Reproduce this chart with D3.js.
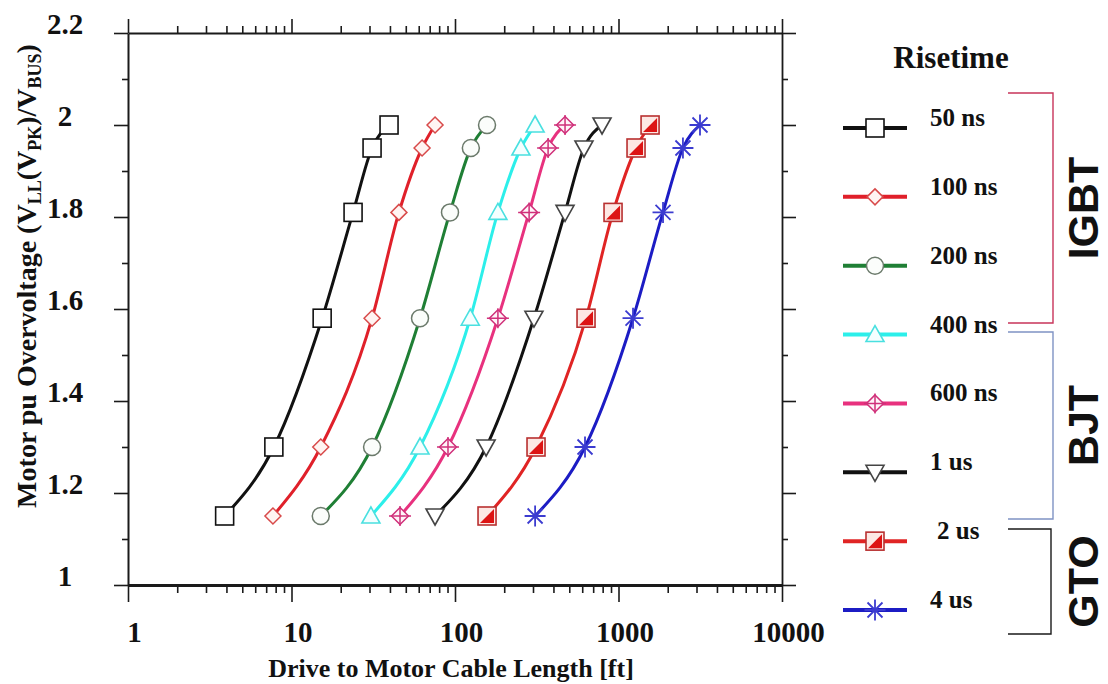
<!DOCTYPE html>
<html>
<head>
<meta charset="utf-8">
<script src="https://cdn.jsdelivr.net/npm/d3@7/dist/d3.min.js"></script>
<style>
  html, body { margin: 0; padding: 0; background: #fff; }
  svg { display: block; }
  .serif { font-family: "Liberation Serif", "Times New Roman", serif; font-weight: bold; fill: #111; }
  .sans { font-family: "Liberation Sans", Arial, sans-serif; font-weight: bold; fill: #111; }
</style>
</head>
<body>
<svg id="chart" width="1108" height="684"></svg>
<script>
// Rise-time series and their legend labels
const riseTimes = ["50 ns", "100 ns", "200 ns", "400 ns", "600 ns", "1 us", "2 us", "4 us"];
// Overvoltage levels (pu) at which each curve was evaluated
const overvoltage = [1.15, 1.3, 1.58, 1.81, 1.95, 2.0];
// Cable length [ft] reaching each overvoltage level, one array per rise time
const len50ns  = [3.9, 7.8, 15.4, 23.8, 31.1, 39.5];
const len100ns = [7.7, 15.1, 31.1, 45.4, 62.9, 75.5];
const len200ns = [15.1, 31.1, 61.1, 93.2, 125, 157];
const len400ns = [30.6, 61.1, 124, 183, 253, 309];
const len600ns = [46.1, 90.6, 183, 284, 371, 471];
const len1us   = [75.5, 155, 304, 471, 615, 793];
const len2us   = [157, 313, 633, 926, 1280, 1560];
const len4us   = [309, 624, 1227, 1872, 2478, 3151];
const cableLengths = [len50ns, len100ns, len200ns, len400ns, len600ns, len1us, len2us, len4us];

// Axis ticks
const xTicks = [1, 10, 100, 1000, 10000];
const xTickLabels = ["1", "10", "100", "1000", "10000"];
const yTicks = [1, 1.2, 1.4, 1.6, 1.8, 2, 2.2];
const yTickLabels = ["1", "1.2", "1.4", "1.6", "1.8", "2", "2.2"];
const yMinorTicks = [1.1, 1.3, 1.5, 1.7, 1.9, 2.1];

// Device families grouping the rise times
const deviceGroups = ["IGBT", "BJT", "GTO"];

// Styling per series
const lineColors   = ["#111111", "#e0202a", "#1f7f35", "#2cefea", "#e8317e", "#111111", "#e02424", "#1c1cc4"];
const markerStroke = ["#111111", "#d84a4a", "#6b7a6b", "#49e0e0", "#d0307a", "#444444", "#b83030", "#3c3cd0"];
const markerKinds  = ["square", "diamond", "circle", "triangleUp", "crossDiamond", "triangleDown", "halfSquare", "asterisk"];

const svg = d3.select("#chart");

const x = d3.scaleLog().domain([1, 10000]).range([128, 782]);
const y = d3.scaleLinear().domain([1, 2.2]).range([585, 33]);

const xMinor = [];
for (let dec = 1; dec < 10000; dec *= 10) for (let k = 2; k <= 9; k++) xMinor.push(dec * k);

// ---------- axes ----------
function styleAxis(g, width) {
  g.selectAll("path.domain").attr("stroke", "#1a1a1a").attr("stroke-width", width);
  g.selectAll(".tick line").attr("stroke", "#1a1a1a").attr("stroke-width", 1.6);
}

// bottom
const gb = svg.append("g").attr("transform", `translate(0,${y.range()[0]})`)
  .call(d3.axisBottom(x).tickValues(xTicks).tickSize(17).tickSizeOuter(0)
    .tickFormat((d, i) => xTickLabels[i]));
styleAxis(gb, 3);
gb.selectAll(".tick text").attr("class", "serif").attr("font-size", 29)
  .attr("y", 57).attr("dy", 0).attr("dx", 6).attr("fill", "#111");
svg.append("g").attr("transform", `translate(0,${y.range()[0]})`)
  .call(d3.axisBottom(x).tickValues(xMinor).tickSize(8).tickSizeOuter(0).tickFormat(""))
  .call(g => { g.select("path.domain").remove(); styleAxis(g, 1.6); });

// top
const gt = svg.append("g").attr("transform", `translate(0,${y.range()[1]})`)
  .call(d3.axisTop(x).tickValues(xTicks).tickSize(14).tickSizeOuter(0).tickFormat(""));
styleAxis(gt, 1.8);
svg.append("g").attr("transform", `translate(0,${y.range()[1]})`)
  .call(d3.axisTop(x).tickValues(xMinor).tickSize(7).tickSizeOuter(0).tickFormat(""))
  .call(g => { g.select("path.domain").remove(); styleAxis(g, 1.6); });

// left
const gl = svg.append("g").attr("transform", `translate(${x.range()[0]},0)`)
  .call(d3.axisLeft(y).tickValues(yTicks).tickSize(14).tickSizeOuter(0)
    .tickFormat((d, i) => yTickLabels[i]));
styleAxis(gl, 2);
gl.selectAll(".tick text").attr("class", "serif").attr("font-size", 29)
  .attr("x", -63).attr("dy", 0).attr("text-anchor", "middle").attr("fill", "#111");
svg.append("g").attr("transform", `translate(${x.range()[0]},0)`)
  .call(d3.axisLeft(y).tickValues(yMinorTicks).tickSize(6).tickSizeOuter(0).tickFormat(""))
  .call(g => { g.select("path.domain").remove(); styleAxis(g, 1.6); });

// right
const gr = svg.append("g").attr("transform", `translate(${x.range()[1]},0)`)
  .call(d3.axisRight(y).tickValues(yTicks).tickSize(14).tickSizeOuter(0).tickFormat(""));
styleAxis(gr, 1.8);
svg.append("g").attr("transform", `translate(${x.range()[1]},0)`)
  .call(d3.axisRight(y).tickValues(yMinorTicks).tickSize(6).tickSizeOuter(0).tickFormat(""))
  .call(g => { g.select("path.domain").remove(); styleAxis(g, 1.6); });

// axis titles
svg.append("text").attr("class", "serif").attr("font-size", 26)
  .attr("x", 451).attr("y", 677).attr("text-anchor", "middle")
  .text("Drive to Motor Cable Length [ft]");

const yTitle = svg.append("text").attr("class", "serif").attr("font-size", 28)
  .attr("text-anchor", "middle")
  .attr("transform", "translate(36,276) rotate(-90)");
yTitle.append("tspan").text("Motor pu Overvoltage (V");
yTitle.append("tspan").attr("font-size", 18).attr("dy", 5).text("LL");
yTitle.append("tspan").attr("dy", -5).text("(V");
yTitle.append("tspan").attr("font-size", 18).attr("dy", 5).text("PK");
yTitle.append("tspan").attr("dy", -5).text(")/V");
yTitle.append("tspan").attr("font-size", 18).attr("dy", 5).text("BUS");
yTitle.append("tspan").attr("dy", -5).text(")");

// ---------- markers ----------
function drawMarker(g, kind, stroke) {
  const s = 9;
  switch (kind) {
    case "square":
      g.append("rect").attr("x", -s).attr("y", -s).attr("width", 2 * s).attr("height", 2 * s)
        .attr("fill", "#fff").attr("stroke", stroke).attr("stroke-width", 1.6);
      break;
    case "diamond":
      g.append("path").attr("d", `M0,${-8}L8,0L0,8L${-8},0Z`)
        .attr("fill", "#fff4f2").attr("stroke", stroke).attr("stroke-width", 1.5);
      break;
    case "circle":
      g.append("circle").attr("r", 8.5)
        .attr("fill", "#fbfdfb").attr("stroke", stroke).attr("stroke-width", 1.5);
      break;
    case "triangleUp":
      g.append("path").attr("d", `M0,-9L9,7L-9,7Z`)
        .attr("fill", "#f4ffff").attr("stroke", stroke).attr("stroke-width", 1.6);
      break;
    case "triangleDown":
      g.append("path").attr("d", `M0,9L9,-7L-9,-7Z`)
        .attr("fill", "#fff").attr("stroke", stroke).attr("stroke-width", 1.6);
      break;
    case "crossDiamond":
      g.append("path").attr("d", `M0,-8.5L8.5,0L0,8.5L-8.5,0Z`)
        .attr("fill", "#fff4f8").attr("stroke", stroke).attr("stroke-width", 1.5);
      g.append("path").attr("d", "M0,-10V10M-11,0H11")
        .attr("stroke", stroke).attr("stroke-width", 1.5);
      break;
    case "halfSquare":
      g.append("rect").attr("x", -s).attr("y", -s).attr("width", 2 * s).attr("height", 2 * s)
        .attr("fill", "#fde8e4").attr("stroke", stroke).attr("stroke-width", 1.6);
      g.append("path").attr("d", `M${s - 2},${-s + 2}L${s - 2},${s - 2}L${-s + 2},${s - 2}Z`)
        .attr("fill", "#dd1414");
      break;
    case "asterisk": {
      const r = 10.5, d = 7.5;
      g.append("path").attr("d", `M${-r},0H${r}M0,${-r}V${r}M${-d},${-d}L${d},${d}M${-d},${d}L${d},${-d}`)
        .attr("stroke", stroke).attr("stroke-width", 1.8).attr("fill", "none");
      break;
    }
  }
}

// ---------- curves ----------
const line = d3.line()
  .x(d => x(d[0]))
  .y(d => y(d[1]))
  .curve(d3.curveMonotoneX);

const plot = svg.append("g");
cableLengths.forEach((lens, i) => {
  const pts = lens.map((v, j) => [v, overvoltage[j]]);
  plot.append("path").datum(pts).attr("d", line)
    .attr("fill", "none").attr("stroke", lineColors[i]).attr("stroke-width", 3)
    .attr("stroke-linejoin", "round").attr("stroke-linecap", "round");
});
cableLengths.forEach((lens, i) => {
  lens.forEach((v, j) => {
    const g = plot.append("g").attr("transform", `translate(${x(v)},${y(overvoltage[j])})`);
    drawMarker(g, markerKinds[i], markerStroke[i]);
  });
});

// ---------- legend ----------
svg.append("text").attr("class", "serif").attr("font-size", 31)
  .attr("x", 951).attr("y", 68).attr("text-anchor", "middle").text("Risetime");

const legendY = d3.scaleLinear().domain([0, riseTimes.length - 1]).range([128, 610]);
riseTimes.forEach((label, i) => {
  const ly = legendY(i);
  svg.append("line").attr("x1", 843).attr("x2", 907).attr("y1", ly).attr("y2", ly)
    .attr("stroke", lineColors[i]).attr("stroke-width", 4);
  const g = svg.append("g").attr("transform", `translate(875,${ly})`);
  drawMarker(g, markerKinds[i], markerStroke[i]);
  svg.append("text").attr("class", "serif").attr("font-size", 25)
    .attr("x", label === "2 us" ? 937 : 930).attr("y", ly - 2).text(label);
});

// ---------- device family brackets ----------
const bracketSpans = [[93, 323], [332, 519], [529, 634]];
const bracketColors = ["#c8345a", "#7f93c4", "#1a1a1a"];
deviceGroups.forEach((name, i) => {
  const [y0, y1] = bracketSpans[i];
  const bx = i === 2 ? 1051 : 1053;
  svg.append("path")
    .attr("d", `M1008,${y0}H${bx}V${y1}H1008`)
    .attr("fill", "none").attr("stroke", bracketColors[i]).attr("stroke-width", 1.4);
  svg.append("text").attr("class", "sans").attr("font-size", 43)
    .attr("text-anchor", "middle")
    .attr("transform", `translate(1098,${(y0 + y1) / 2}) rotate(-90)`)
    .text(name);
});
</script>
</body>
</html>
